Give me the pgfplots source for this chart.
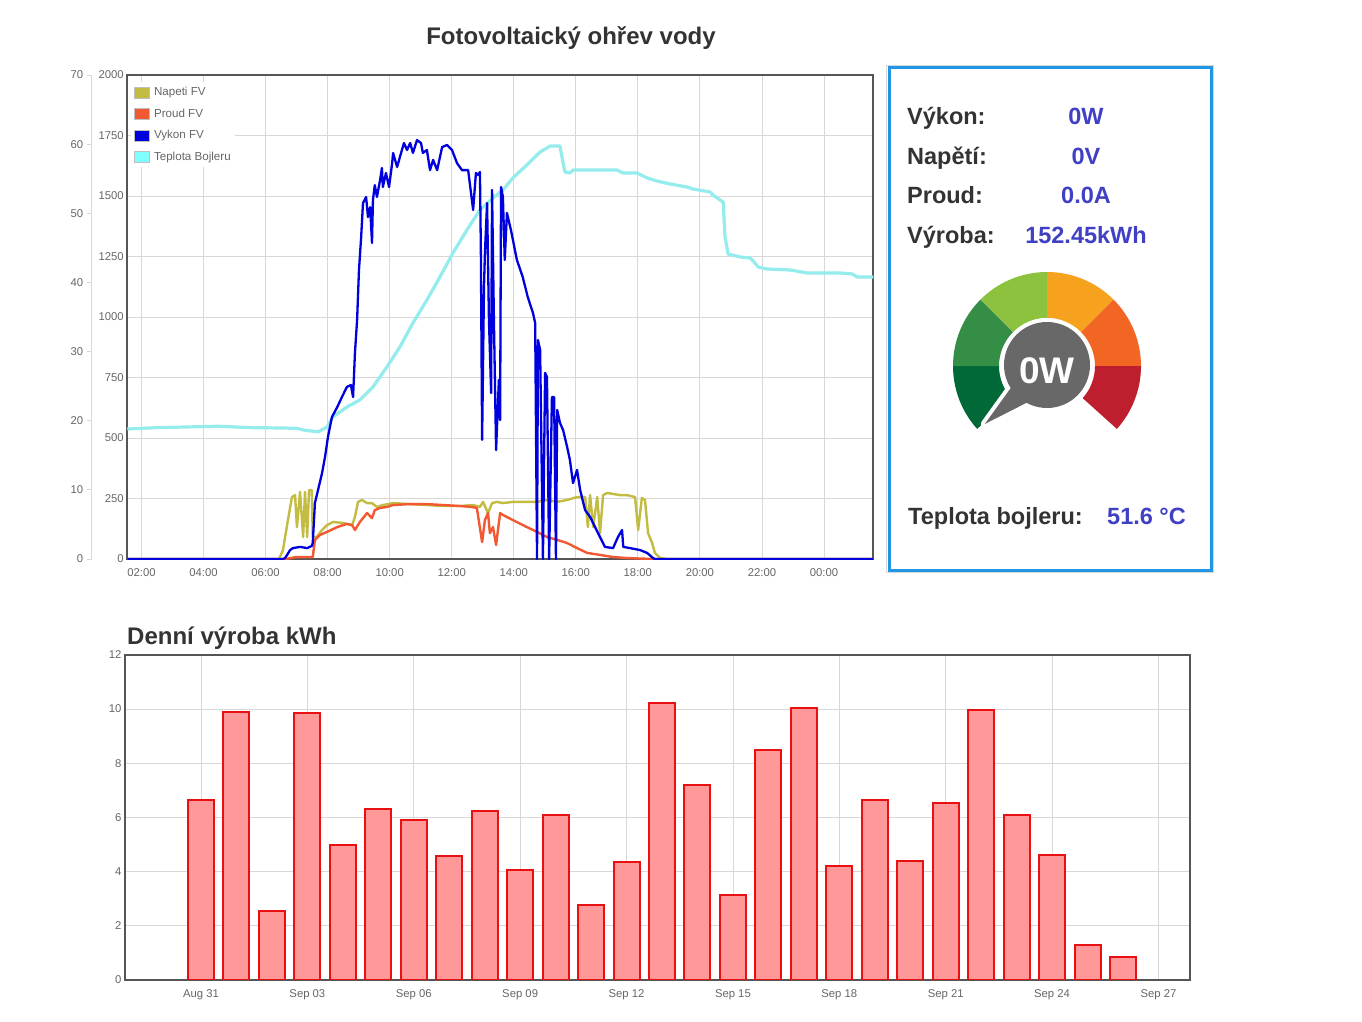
\documentclass[border=0pt]{standalone}
\usepackage{pgfplots}
\pgfplotsset{compat=1.18}
\usepackage{fontspec}
\setmainfont{Liberation Sans}
\definecolor{tickc}{RGB}{102,102,102}
\definecolor{gridc}{RGB}{216,216,216}
\definecolor{framec}{RGB}{85,85,85}
\definecolor{titlec}{RGB}{51,51,51}
\definecolor{valc}{RGB}{64,64,196}
\definecolor{panelblue}{RGB}{33,150,230}
\definecolor{napeti}{RGB}{194,188,66}
\definecolor{proud}{RGB}{242,88,50}
\definecolor{vykon}{RGB}{0,0,222}
\definecolor{teplota}{RGB}{148,236,236}
\definecolor{tepleg}{RGB}{128,255,255}
\definecolor{legbord}{RGB}{190,190,190}
\definecolor{barfill}{RGB}{255,153,153}
\definecolor{barline}{RGB}{232,16,16}
\definecolor{gA}{RGB}{0,105,55}
\definecolor{gB}{RGB}{52,142,70}
\definecolor{gC}{RGB}{141,194,62}
\definecolor{gD}{RGB}{247,162,30}
\definecolor{gE}{RGB}{242,102,36}
\definecolor{gF}{RGB}{190,30,45}
\definecolor{gaugegray}{RGB}{104,104,104}
\newcommand\fs[1]{\fontsize{#1bp}{#1bp}\selectfont}
\begin{document}
\begin{tikzpicture}
\fill[white] (0,0) rectangle (1362bp,-1022bp);
\path[use as bounding box] (0,0) rectangle (1362bp,-1022bp);

% ---------- top chart: grid / frame / main ticks ----------
\begin{axis}[at={(127.3bp,-559bp)}, anchor=south west, scale only axis,
  width=746bp, height=484bp,
  xmin=1.542, xmax=25.59, ymin=0, ymax=2000,
  xtick={2,4,...,24},
  xticklabels={02:00,04:00,06:00,08:00,10:00,12:00,14:00,16:00,18:00,20:00,22:00,00:00},
  ytick={0,250,...,2000},
  grid=major, grid style={draw=gridc, line width=0.8bp},
  major tick length=0pt,
  axis line style={draw=framec, line width=2bp},
  tick label style={font=\fs{11.3}, text=tickc},
  xticklabel style={yshift=-6.5bp},
  /pgf/number format/assume math mode=true,
  /pgf/number format/1000 sep={}]
\addplot[draw=none] coordinates {(2,0)};
\end{axis}

% ---------- temperature axis ----------
\begin{axis}[at={(91.7bp,-559bp)}, anchor=south west, scale only axis,
  width=781.6bp, height=484bp,
  xmin=0.395, xmax=25.59, ymin=0, ymax=70,
  axis x line=none, axis y line*=left,
  xtick=\empty, ytick={0,10,...,70},
  tick align=outside, major tick length=5bp,
  tick style={draw=gridc, line width=0.8bp},
  axis line style={draw=gridc, line width=0.8bp},
  tick label style={font=\fs{11.3}, text=tickc},
  /pgf/number format/assume math mode=true]
\addplot[teplota, line width=3.2bp, line join=round] coordinates {
(1.542,18.8)(2.5,19.0)(3.5,19.1)(4.5,19.2)(5.5,19.0)(6.5,18.95)(7.0,18.9)(7.3,18.6)
(7.7,18.4)(7.98,19.09)(8.17,20.54)(8.62,21.98)(9.04,23.0)(9.46,24.88)(9.91,27.77)
(10.33,30.66)(10.75,34.13)(11.20,37.46)(11.62,40.79)(12.04,44.26)(12.49,47.58)
(12.91,50.48)(13.33,52.21)(13.65,53.37)(13.97,55.1)(14.42,56.99)(14.85,58.87)
(15.07,59.44)(15.17,59.73)(15.49,59.73)(15.59,57.27)(15.65,55.97)(15.81,55.83)
(15.91,56.26)(17.33,56.26)(17.52,55.83)(17.97,55.83)(18.30,55.11)(18.62,54.67)
(19.04,54.24)(19.59,53.80)(19.78,53.51)(20.33,53.08)(20.42,52.65)(20.65,51.92)
(20.75,51.63)(20.81,46.57)(20.91,44.11)(21.30,43.68)(21.62,43.53)(21.72,43.10)
(21.88,42.23)(22.16,41.94)(22.91,41.80)(23.45,41.37)(24.52,41.37)(24.91,41.22)
(25.07,40.79)(25.59,40.79)};
\end{axis}

% ---------- Napeti / Proud / Vykon + legend ----------
\begin{axis}[at={(127.3bp,-559bp)}, anchor=south west, scale only axis,
  width=746bp, height=484bp,
  xmin=1.542, xmax=25.59, ymin=0, ymax=2000,
  axis lines=none, xtick=\empty, ytick=\empty,
  legend image code/.code={\draw[line width=0.8bp, draw=legbord, #1] (0bp,-5.5bp) rectangle (15bp,5.5bp);},
  legend style={at={(0.005,0.985)}, anchor=north west, draw=none, fill=white,
    inner sep=3bp, row sep=7.6bp, font=\fs{11.6}, text=tickc,
    nodes={inner sep=1.5bp, text height=8.5bp, text depth=2.5bp},
    /tikz/every odd column/.append style={column sep=2.5bp}},
  legend cell align=left]
\addlegendimage{fill=napeti}\addlegendentry{Napeti FV}
\addlegendimage{fill=proud}\addlegendentry{Proud FV}
\addlegendimage{fill=vykon}\addlegendentry{Vykon FV}
\addlegendimage{fill=tepleg}\addlegendentry{Teplota Bojleru}
\addplot[napeti, line width=2.4bp, line join=round, forget plot] coordinates {
(1.542,0)(6.43,0)(6.56,37)(6.72,161)(6.85,256)(6.95,264)(7.01,132)(7.11,277)(7.21,91)
(7.27,277)(7.34,91)(7.40,285)(7.49,285)(7.52,91)(7.65,91)(7.82,120)(7.98,140)(8.17,153)
(8.50,149)(8.79,140)(8.88,174)(8.98,236)(9.11,244)(9.27,231)(9.43,231)(9.59,215)
(9.78,223)(10.11,231)(10.66,227)(11.20,223)(11.72,219)(12.27,219)(12.69,223)(12.91,215)
(13.01,236)(13.17,190)(13.30,231)(13.46,236)(13.65,231)(13.97,236)(14.42,236)(14.75,236)
(15.07,244)(15.40,236)(15.72,244)(16.04,256)(16.30,256)(16.39,132)(16.46,264)(16.56,132)
(16.69,256)(16.78,107)(16.88,264)(17.01,273)(17.43,264)(17.65,264)(17.91,256)(18.01,120)
(18.13,252)(18.23,244)(18.33,107)(18.46,66)(18.55,25)(18.72,4)(18.94,0)(25.59,0)};
\addplot[proud, line width=2.4bp, line join=round, forget plot] coordinates {
(1.542,0)(6.66,0)(6.98,8)(7.52,8)(7.59,79)(7.75,99)(7.98,112)(8.31,132)(8.62,145)
(8.79,140)(8.88,120)(9.04,153)(9.27,190)(9.43,169)(9.52,202)(9.69,211)(9.91,215)
(10.11,223)(10.66,227)(11.20,227)(11.72,223)(12.27,219)(12.65,215)(12.81,211)(12.98,70)
(13.07,161)(13.17,190)(13.23,107)(13.33,132)(13.43,58)(13.56,190)(13.65,182)(13.97,161)
(14.42,132)(14.75,112)(15.07,91)(15.40,79)(15.72,66)(16.04,45)(16.37,25)(16.78,17)
(17.20,8)(17.65,4)(18.49,0)(25.59,0)};
\addplot[vykon, line width=2.3bp, line join=round, forget plot] coordinates {
(1.542,0)(6.56,0)(6.63,4)(6.79,37)(6.88,45)(7.11,50)(7.34,45)(7.49,54)(7.52,66)(7.59,231)
(7.69,285)(7.82,355)(7.92,425)(8.01,504)(8.14,587)(8.31,628)(8.46,669)(8.62,711)(8.75,719)
(8.82,669)(8.88,851)(8.95,988)(9.01,1194)(9.08,1330)(9.14,1471)(9.24,1496)(9.30,1413)
(9.37,1454)(9.43,1306)(9.46,1483)(9.52,1545)(9.59,1496)(9.69,1566)(9.75,1616)(9.78,1537)
(9.88,1595)(9.98,1537)(10.08,1636)(10.11,1678)(10.24,1620)(10.33,1661)(10.46,1719)
(10.56,1690)(10.66,1719)(10.75,1678)(10.88,1731)(11.01,1719)(11.07,1678)(11.20,1690)
(11.30,1607)(11.40,1649)(11.53,1607)(11.69,1702)(11.85,1711)(12.01,1690)(12.17,1636)
(12.33,1607)(12.53,1607)(12.69,1442)(12.78,1595)(12.85,1587)(12.91,1599)(12.94,1264)
(12.98,492)(13.04,1124)(13.07,1264)(13.14,1471)(13.20,988)(13.27,686)(13.30,1525)
(13.36,988)(13.43,450)(13.52,740)(13.56,574)(13.59,1537)(13.65,1496)(13.71,1236)
(13.78,1430)(13.91,1359)(14.10,1236)(14.29,1165)(14.45,1083)(14.62,1016)(14.69,975)
(14.75,0)(14.78,905)(14.85,864)(14.94,0)(15.01,769)(15.07,752)(15.14,0)(15.23,669)
(15.30,669)(15.36,0)(15.40,616)(15.49,562)(15.59,533)(15.72,463)(15.81,409)(15.91,314)
(16.04,368)(16.14,285)(16.30,202)(16.46,174)(16.62,132)(16.78,91)(16.94,50)(17.20,45)
(17.36,91)(17.49,120)(17.53,50)(17.75,45)(18.07,37)(18.30,25)(18.49,4)(18.55,0)(25.59,0)};
\end{axis}

% ---------- titles ----------
\node[anchor=base, font=\bfseries\fs{24}, text=titlec] at (571bp,-44bp) {Fotovoltaický ohřev vody};
\node[anchor=base west, font=\bfseries\fs{24}, text=titlec, inner sep=0pt] at (127bp,-644bp) {Denní výroba kWh};

% ---------- right panel ----------
\draw[line width=1bp, draw=gridc] (886.5bp,-65.5bp) rectangle (1213.5bp,-572bp);
\draw[line width=3bp, draw=panelblue] (889.5bp,-67.5bp) rectangle (1211.5bp,-570bp);
\begin{scope}[every node/.style={inner sep=0pt}]
\node[anchor=base west, font=\bfseries\fs{23.5}, text=titlec] at (907bp,-124bp) {Výkon:};
\node[anchor=base west, font=\bfseries\fs{23.5}, text=titlec] at (907bp,-164bp) {Napětí:};
\node[anchor=base west, font=\bfseries\fs{23.5}, text=titlec] at (907bp,-203.3bp) {Proud:};
\node[anchor=base west, font=\bfseries\fs{23.5}, text=titlec] at (907bp,-243.3bp) {Výroba:};
\node[anchor=base, font=\bfseries\fs{23.5}, text=valc] at (1086bp,-124bp) {0W};
\node[anchor=base, font=\bfseries\fs{23.5}, text=valc] at (1086bp,-164bp) {0V};
\node[anchor=base, font=\bfseries\fs{23.5}, text=valc] at (1086bp,-203.3bp) {0.0A};
\node[anchor=base, font=\bfseries\fs{23.5}, text=valc] at (1086bp,-243.3bp) {152.45kWh};
\node[anchor=base west, font=\bfseries\fs{23.5}, text=titlec] at (908bp,-524bp) {Teplota bojleru:};
\node[anchor=base west, font=\bfseries\fs{23.5}, text=valc] at (1107bp,-524bp) {51.6 °C};
\end{scope}

% ---------- gauge ----------
\begin{scope}[shift={(1047bp,-366bp)}]
\fill[gA] (180:48bp) arc[start angle=180,end angle=222,radius=48bp] -- (222:94bp) arc[start angle=222,end angle=180,radius=94bp] -- cycle;
\fill[gB] (135:48bp) arc[start angle=135,end angle=180,radius=48bp] -- (180:94bp) arc[start angle=180,end angle=135,radius=94bp] -- cycle;
\fill[gC] (90:48bp) arc[start angle=90,end angle=135,radius=48bp] -- (135:94bp) arc[start angle=135,end angle=90,radius=94bp] -- cycle;
\fill[gD] (45:48bp) arc[start angle=45,end angle=90,radius=48bp] -- (90:94bp) arc[start angle=90,end angle=45,radius=94bp] -- cycle;
\fill[gE] (0:48bp) arc[start angle=0,end angle=45,radius=48bp] -- (45:94bp) arc[start angle=45,end angle=0,radius=94bp] -- cycle;
\fill[gF] (-42:48bp) arc[start angle=-42,end angle=0,radius=48bp] -- (0:94bp) arc[start angle=0,end angle=-42,radius=94bp] -- cycle;
\path[draw=white, fill=white, line width=8bp, line join=round] (0,1bp) circle[radius=43bp] (211:42bp) -- (223:85bp) -- (241:42bp) -- cycle;
\fill[gaugegray] (0,1bp) circle[radius=43bp] (211:42bp) -- (223:85bp) -- (241:42bp) -- cycle;
\node[anchor=base, font=\bfseries\fs{37}, text=white, inner sep=0pt] at (0bp,-17.3bp) {0W};
\end{scope}

% ---------- bottom chart ----------
\begin{axis}[at={(125bp,-979.5bp)}, anchor=south west, scale only axis,
  width=1065bp, height=324.5bp,
  xmin=-2.143, xmax=27.89, ymin=0, ymax=12,
  ytick={0,2,...,12}, xtick={0,3,...,27},
  xticklabels={Aug 31,Sep 03,Sep 06,Sep 09,Sep 12,Sep 15,Sep 18,Sep 21,Sep 24,Sep 27},
  grid=major, grid style={draw=gridc, line width=0.8bp},
  major tick length=0pt,
  axis line style={draw=framec, line width=2bp},
  tick label style={font=\fs{11.3}, text=tickc},
  xticklabel style={yshift=-6.5bp},
  /pgf/number format/assume math mode=true,
  ybar, bar width=26bp]
\addplot[fill=barfill, draw=barline, line width=2bp] coordinates {
(0,6.65)(1,9.89)(2,2.55)(3,9.86)(4,4.97)(5,6.31)(6,5.9)(7,4.57)(8,6.24)(9,4.06)
(10,6.1)(11,2.77)(12,4.35)(13,10.23)(14,7.18)(15,3.14)(16,8.49)(17,10.03)(18,4.19)
(19,6.62)(20,4.37)(21,6.52)(22,9.98)(23,6.07)(24,4.59)(25,1.26)(26,0.84)};
\end{axis}
\end{tikzpicture}
\end{document}
